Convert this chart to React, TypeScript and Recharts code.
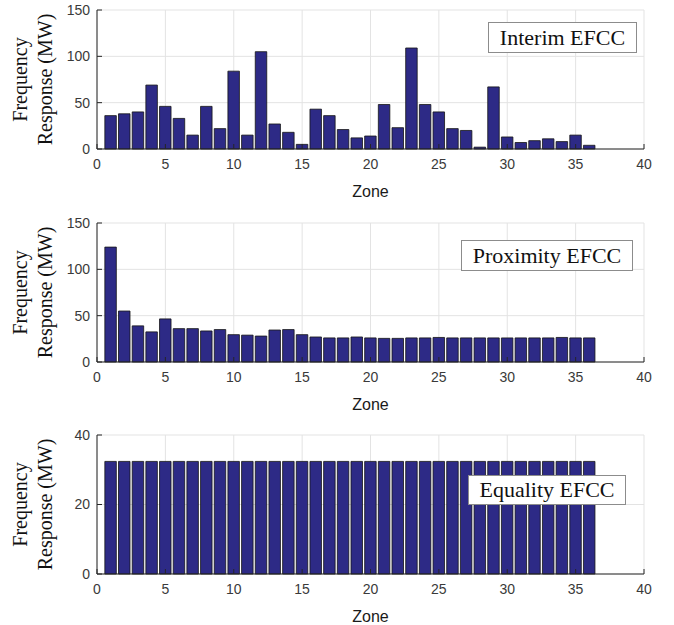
import React from "react";
import { BarChart, Bar, XAxis, YAxis, CartesianGrid } from "recharts";

const zones = [1, 2, 3, 4, 5, 6, 7, 8, 9, 10, 11, 12, 13, 14, 15, 16, 17, 18, 19, 20, 21, 22, 23, 24, 25, 26, 27, 28, 29, 30, 31, 32, 33, 34, 35, 36];

const interim = [36, 38, 40, 69, 46, 33, 15, 46, 22, 84, 15, 105, 27, 18, 5, 43, 36, 21, 12, 14, 48, 23, 109, 48, 40, 22, 20, 2, 67, 13, 7, 9, 11, 8, 15, 4];
const proximity = [124, 55, 39, 32.5, 46.5, 36, 36, 33.5, 35, 29.5, 29, 28, 34.5, 35, 29.5, 27, 26, 26, 27, 26, 25.5, 25.5, 26, 26, 26.5, 26, 26, 26, 26, 26, 26, 26, 26, 26.5, 26, 26];
const equality = [32.4, 32.4, 32.4, 32.4, 32.4, 32.4, 32.4, 32.4, 32.4, 32.4, 32.4, 32.4, 32.4, 32.4, 32.4, 32.4, 32.4, 32.4, 32.4, 32.4, 32.4, 32.4, 32.4, 32.4, 32.4, 32.4, 32.4, 32.4, 32.4, 32.4, 32.4, 32.4, 32.4, 32.4, 32.4, 32.4];

const xTicks = [0, 5, 10, 15, 20, 25, 30, 35, 40];
const yTicksBig = [0, 50, 100, 150];
const yTicksSmall = [0, 20, 40];

const SANS = "'Liberation Sans', Arial, sans-serif";
const SERIF = "'Liberation Serif', 'Times New Roman', serif";
const AXIS = "#262626";
const BAR = "#2d2a86";

interface PanelProps {
    values: number[];
    yMax: number;
    yTicks: number[];
    top: number;
    legend: string;
    box: { left: number; top: number; width: number; height: number };
}

function YLabel(props: any) {
    const vb = props.viewBox || { x: 0, y: 10, width: 97, height: 139 };
    const cy = vb.y + vb.height / 2;
    return (
        <g fontFamily={SERIF} fontSize={20} fill="#111">
            <text x={20} y={cy} transform={`rotate(-90 20 ${cy})`} textAnchor="middle" dominantBaseline="central">
                Frequency
            </text>
            <text x={45} y={cy} transform={`rotate(-90 45 ${cy})`} textAnchor="middle" dominantBaseline="central">
                Response (MW)
            </text>
        </g>
    );
}

function Panel({ values, yMax, yTicks, top, legend, box }: PanelProps) {
    const data = zones.map((z, i) => ({ zone: z, value: values[i] }));
    return (
        <div style={{ position: "absolute", left: 0, top }}>
            <BarChart width={674} height={199} data={data} margin={{ top: 10, right: 30, left: 0, bottom: 0 }}>
                <CartesianGrid stroke="#e3e3e3" strokeWidth={1} />
                <XAxis
                    dataKey="zone"
                    type="number"
                    domain={[0, 40]}
                    ticks={xTicks}
                    height={50}
                    tickSize={-5}
                    tickMargin={15}
                    stroke={AXIS}
                    tick={{ fontFamily: SANS, fontSize: 14, fill: "#3a3a3a" }}
                    label={{ value: "Zone", position: "insideBottom", offset: 2, fontFamily: SANS, fontSize: 16, fill: "#1a1a1a" }}
                />
                <XAxis
                    xAxisId="top"
                    dataKey="zone"
                    type="number"
                    orientation="top"
                    domain={[0, 40]}
                    ticks={xTicks}
                    height={0}
                    tickSize={-5}
                    tick={false}
                    stroke={AXIS}
                />
                <YAxis
                    type="number"
                    domain={[0, yMax]}
                    ticks={yTicks}
                    width={97}
                    tickSize={-5}
                    tickMargin={12}
                    stroke={AXIS}
                    tick={{ fontFamily: SANS, fontSize: 14, fill: "#3a3a3a" }}
                    label={{ content: (p: any) => <YLabel {...p} /> }}
                />
                <YAxis
                    yAxisId="right"
                    orientation="right"
                    type="number"
                    domain={[0, yMax]}
                    ticks={yTicks}
                    width={0}
                    tickSize={-5}
                    tick={false}
                    stroke={AXIS}
                />
                <Bar dataKey="value" fill={BAR} stroke="#151515" strokeWidth={0.8} barSize={11.5} isAnimationActive={false} />
            </BarChart>
            <div
                style={{
                    position: "absolute",
                    left: box.left,
                    top: box.top,
                    width: box.width,
                    height: box.height,
                    boxSizing: "border-box",
                    border: "1px solid #8c8c8c",
                    background: "#fff",
                    fontFamily: SERIF,
                    fontSize: 22,
                    color: "#111",
                    display: "flex",
                    alignItems: "center",
                    justifyContent: "center",
                    whiteSpace: "nowrap",
                }}
            >
                {legend}
            </div>
        </div>
    );
}

export default function App() {
    return (
        <div style={{ position: "absolute", left: 0, top: 0, width: 674, height: 625, background: "#fff" }}>
            <Panel values={interim} yMax={150} yTicks={yTicksBig} top={0} legend="Interim EFCC"
                box={{ left: 488, top: 22, width: 149, height: 31 }} />
            <Panel values={proximity} yMax={150} yTicks={yTicksBig} top={213} legend="Proximity EFCC"
                box={{ left: 461, top: 27, width: 172, height: 31 }} />
            <Panel values={equality} yMax={40} yTicks={yTicksSmall} top={425} legend="Equality EFCC"
                box={{ left: 468, top: 50, width: 158, height: 30 }} />
        </div>
    );
}
